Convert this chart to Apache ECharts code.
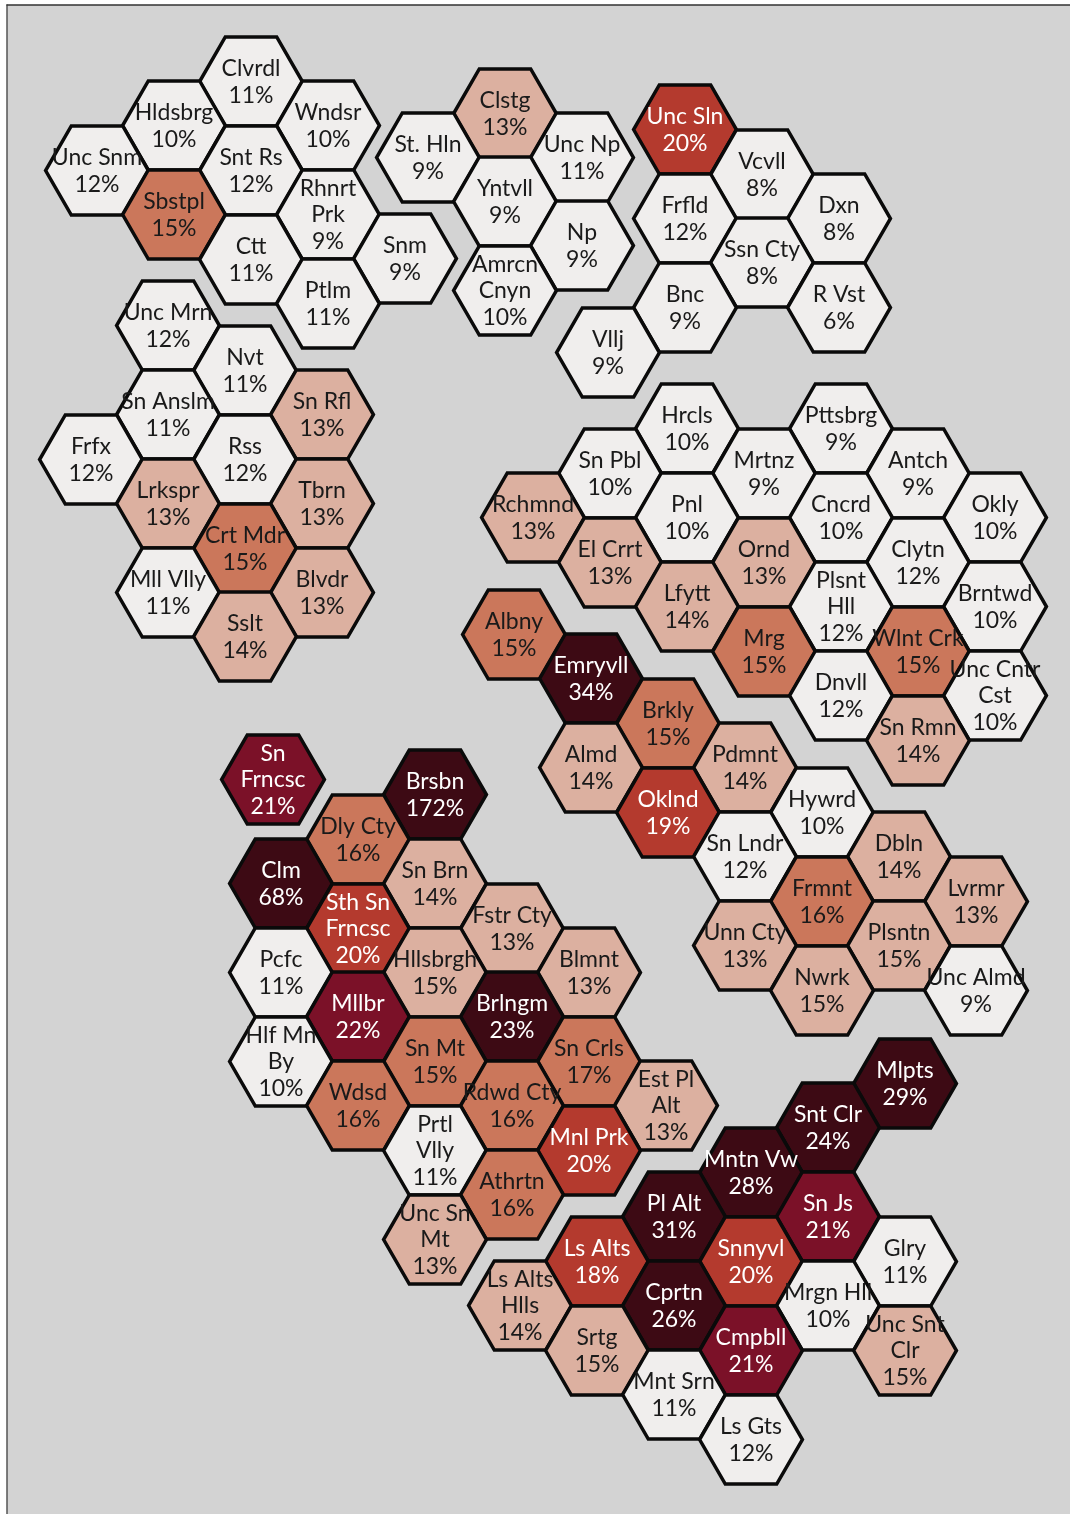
<!DOCTYPE html>
<html>
<head>
<meta charset="utf-8">
<style>html,body{margin:0;padding:0;background:#fff;overflow:hidden}#c{width:1070px;height:1514px}</style>
<script src="https://cdn.jsdelivr.net/npm/echarts@6/dist/echarts.min.js"></script>
</head>
<body>
<div id="c"></div>
<script>
// Labels, map position of each hexagon (in map units), and percent values
const names = [
"Clvrdl","Hldsbrg","Wndsr","Unc Snm","Snt Rs","Sbstpl","Rhnrt\nPrk","Ctt","Snm","Ptlm",
"Clstg","St. Hln","Unc Np","Yntvll","Np","Amrcn\nCnyn",
"Unc Sln","Vcvll","Frfld","Dxn","Ssn Cty","Bnc","R Vst","Vllj",
"Unc Mrn","Nvt","Sn Anslm","Sn Rfl","Frfx","Rss","Lrkspr","Tbrn","Crt Mdr","Mll Vlly","Blvdr","Sslt",
"Hrcls","Pttsbrg","Sn Pbl","Mrtnz","Antch","Rchmnd","Pnl","Cncrd","Okly","El Crrt","Ornd","Clytn","Lfytt","Plsnt\nHll","Brntwd","Mrg","Wlnt Crk","Dnvll","Unc Cntr\nCst","Sn Rmn",
"Albny","Emryvll","Brkly","Almd","Pdmnt","Oklnd","Hywrd","Sn Lndr","Dbln","Frmnt","Lvrmr","Unn Cty","Plsntn","Nwrk","Unc Almd",
"Sn\nFrncsc","Brsbn","Dly Cty","Clm","Sn Brn","Sth Sn\nFrncsc","Fstr Cty","Pcfc","Hllsbrgh","Blmnt","Mllbr","Brlngm","Hlf Mn\nBy","Sn Mt","Sn Crls","Wdsd","Rdwd Cty","Est Pl\nAlt","Prtl\nVlly","Mnl Prk","Athrtn","Unc Sn\nMt",
"Mlpts","Snt Clr","Mntn Vw","Sn Js","Pl Alt","Snnyvl","Ls Alts","Glry","Cprtn","Ls Alts\nHlls","Mrgn Hll","Cmpbll","Srtg","Unc Snt\nClr","Mnt Srn","Ls Gts"
];
const hexX = [
251,174,328,97,251,174,328,251,405,328,
505,428,582,505,582,505,
685,762,685,839,762,685,839,608,
168,245,168,322,91,245,168,322,245,168,322,245,
687,841,610,764,918,533,687,841,995,610,764,918,687,841,995,764,918,841,995,918,
514,591,668,591,745,668,822,745,899,822,976,745,899,822,976,
273,435,358,281,435,358,512,281,435,589,358,512,281,435,589,358,512,666,435,589,512,435,
905,828,751,828,674,751,597,905,674,520,828,751,597,905,674,751
];
const hexY = [
81,125,125,170,170,214,214,259,258,303,
113,157,157,201,245,290,
129,174,218,218,262,307,307,352,
325,370,414,414,459,459,503,503,548,592,592,636,
428,428,473,473,473,517,517,517,517,562,562,562,606,606,606,651,651,695,695,740,
634,678,723,767,767,812,812,856,856,901,901,945,945,990,990,
779,794,839,883,883,928,928,972,972,972,1016,1016,1061,1061,1061,1105,1105,1105,1150,1150,1194,1239,
1083,1127,1172,1216,1216,1261,1261,1261,1305,1305,1305,1350,1350,1350,1394,1439
];
const pct = [
11,10,10,12,12,15.3,9,11,9,11,
13,9,11,9,9,10,
20,8,12,8,8,9,6,9,
12,11,11,13,12,12,13,13,15.3,11,13,14,
10,9,10,9,9,13,10,10,10,13,13,12,14,12,10,15.3,15.3,12,10,14,
15.3,34,15.3,14,14,19,10,12,14,16,13,13,14.8,14.8,9,
21,172,16,68,14,20,13,11,14.8,13,22,23,10,15.3,17,16,16,13,11,20,16,13,
29,24,28,21,31,20,18,11,26,14,10,21,14.8,14.8,11,12
];
const binTops = [12.5, 15, 17.5, 20.5, 22.5, Infinity];
const binColors = ["#f0eeed", "#dcb0a0", "#cb775b", "#b43a2e", "#7b1128", "#3d0a14"];
const radius = 51.4;

const binOf = v => binTops.findIndex(t => v < t);
const rows = names.map((n, i) => [hexX[i], hexY[i], pct[i], n]);

function hexItem(params, api) {
  const c = api.coord([api.value(0), api.value(1)]);
  const pts = [];
  for (let k = 0; k < 6; k++) {
    const a = Math.PI / 3 * k;
    pts.push([c[0] + radius * Math.cos(a), c[1] + 0.5 + radius * Math.sin(a)]);
  }
  return {
    type: "polygon",
    shape: { points: pts },
    style: { fill: binColors[binOf(api.value(2))], stroke: "#0a0a0a", lineWidth: 3.5, lineJoin: "miter" }
  };
}
function textItem(params, api) {
  const c = api.coord([api.value(0), api.value(1)]);
  const v = api.value(2);
  return {
    type: "text",
    style: {
      x: c[0], y: c[1] + 1,
      text: rows[params.dataIndex][3] + "\n" + Math.round(v) + "%",
      align: "center", verticalAlign: "middle",
      font: "23px Lato", lineHeight: 26.5,
      fill: v >= 17.8 ? "#ffffff" : "#1a1a1a"
    }
  };
}
const chart = echarts.init(document.getElementById("c"), null, { renderer: "canvas" });
chart.setOption({
  animation: false,
  backgroundColor: "#ffffff",
  grid: { show: true, left: 7, top: 5, right: 0, bottom: 0, backgroundColor: "#d3d3d3", borderWidth: 0 },
  xAxis: { type: "value", min: 7, max: 1070, position: "top", axisLine: { show: true, onZero: false, lineStyle: { color: "#333333", width: 1.5 } }, axisTick: { show: false }, axisLabel: { show: false }, splitLine: { show: false } },
  yAxis: { type: "value", min: 5, max: 1514, inverse: true, position: "left", axisLine: { show: true, onZero: false, lineStyle: { color: "#555555", width: 1.5 } }, axisTick: { show: false }, axisLabel: { show: false }, splitLine: { show: false } },
  series: [
    { type: "custom", coordinateSystem: "cartesian2d", data: rows, renderItem: hexItem, encode: { x: 0, y: 1 }, z: 2, silent: true },
    { type: "custom", coordinateSystem: "cartesian2d", data: rows, renderItem: textItem, encode: { x: 0, y: 1 }, z: 3, silent: true }
  ]
});
</script>
</body>
</html>
